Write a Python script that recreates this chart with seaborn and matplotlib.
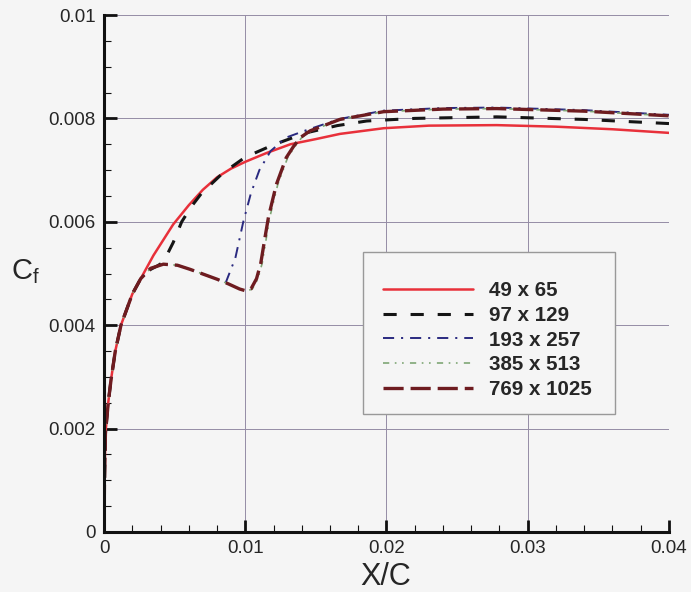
import numpy as np
import pandas as pd
import seaborn as sns
import matplotlib
matplotlib.use("Agg")
import matplotlib.pyplot as plt
from matplotlib.ticker import MultipleLocator, FuncFormatter
from matplotlib.patches import Rectangle

# skin friction along the leading edge, one array pair per grid
x_49 = [0, 0.00003, 0.0001, 0.0003, 0.0005, 0.0008, 0.0012, 0.0016, 0.002, 0.0026, 0.0035,
        0.0049, 0.006, 0.007, 0.008, 0.009, 0.010, 0.0115, 0.0132, 0.015, 0.0167, 0.0198, 0.023,
        0.0278, 0.032, 0.036, 0.040]
cf_49 = [0, 0.0009, 0.0019, 0.0025, 0.00295, 0.0035, 0.0040, 0.0043, 0.0046, 0.0049, 0.00535,
         0.00595, 0.00632, 0.00662, 0.00686, 0.00703, 0.00716, 0.00733, 0.0075, 0.0076, 0.0077, 0.00781,
         0.00786, 0.00787, 0.00784, 0.00779, 0.00772]

x_97 = [0, 0.00003, 0.0001, 0.0003, 0.0005, 0.0008, 0.0012, 0.0016, 0.002, 0.0026, 0.0033,
        0.0038, 0.0042, 0.0049, 0.0055, 0.0062, 0.0069, 0.0084, 0.010, 0.012, 0.0143, 0.0165,
        0.0186, 0.022, 0.0278, 0.034, 0.040]
cf_97 = [0, 0.0009, 0.0019, 0.0025, 0.00295, 0.0035, 0.0040, 0.0043, 0.0046, 0.0049, 0.00508,
         0.00515, 0.00522, 0.0056, 0.0060, 0.0063, 0.00655, 0.00694, 0.00725, 0.00749, 0.00772, 0.00786,
         0.00795, 0.0080, 0.00803, 0.00798, 0.0079]

x_193 = [0, 0.00003, 0.0001, 0.0003, 0.0005, 0.0008, 0.0012, 0.0016, 0.002, 0.0026, 0.0033,
         0.0042, 0.0052, 0.0061, 0.007, 0.008, 0.0086, 0.0093, 0.00986, 0.0104, 0.011, 0.0118,
         0.0129, 0.0143, 0.0167, 0.0198, 0.024, 0.0278, 0.034, 0.040]
cf_193 = [0, 0.0009, 0.0019, 0.0025, 0.00295, 0.0035, 0.0040, 0.0043, 0.0046, 0.0049, 0.0051,
          0.00518, 0.00516, 0.00508, 0.00499, 0.00489, 0.00481, 0.0053, 0.0060, 0.00655, 0.0070, 0.00737,
          0.00763, 0.00777, 0.00799, 0.00815, 0.0082, 0.00821, 0.00816, 0.00807]

x_385 = [0, 0.00003, 0.0001, 0.0003, 0.0005, 0.0008, 0.0012, 0.0016, 0.002, 0.0026, 0.0033,
         0.0042, 0.0052, 0.0061, 0.007, 0.008, 0.0088, 0.0096, 0.0101, 0.0105, 0.0109, 0.0112,
         0.0115, 0.01175, 0.0123, 0.013, 0.0135, 0.014, 0.0147, 0.0167, 0.0198, 0.024, 0.0278,
         0.034, 0.040]
cf_385 = [0, 0.0009, 0.0019, 0.0025, 0.00295, 0.0035, 0.0040, 0.0043, 0.0046, 0.0049, 0.0051,
          0.00518, 0.00516, 0.00508, 0.00499, 0.00489, 0.0048, 0.0047, 0.00466, 0.0047, 0.0049, 0.0052,
          0.0057, 0.0061, 0.00672, 0.00724, 0.00745, 0.00763, 0.00776, 0.00798, 0.00813, 0.00818, 0.00819,
          0.00814, 0.00805]

x_769 = [0, 0.00003, 0.0001, 0.0003, 0.0005, 0.0008, 0.0012, 0.0016, 0.002, 0.0026, 0.0033,
         0.0042, 0.0052, 0.0061, 0.007, 0.008, 0.0088, 0.0096, 0.0101, 0.0104, 0.0108, 0.0111,
         0.0114, 0.01165, 0.0122, 0.0129, 0.0134, 0.0139, 0.0146, 0.0167, 0.0198, 0.024, 0.0278,
         0.034, 0.040]
cf_769 = [0, 0.0009, 0.0019, 0.0025, 0.00295, 0.0035, 0.0040, 0.0043, 0.0046, 0.0049, 0.0051,
          0.00518, 0.00516, 0.00508, 0.00499, 0.00489, 0.0048, 0.0047, 0.00466, 0.0047, 0.0049, 0.0052,
          0.0057, 0.0061, 0.00672, 0.00724, 0.00745, 0.00763, 0.00776, 0.00798, 0.00813, 0.00818, 0.00819,
          0.00814, 0.00805]

labels = ["49 x 65", "97 x 129", "193 x 257", "385 x 513", "769 x 1025"]

bg = "#f5f5f5"
sns.set_style("ticks")
plt.rcParams["font.family"] = ["Liberation Sans", "DejaVu Sans"]
plt.rcParams["mathtext.fontset"] = "custom"
plt.rcParams["mathtext.rm"] = "Liberation Sans"
plt.rcParams["lines.scale_dashes"] = False

fig = plt.figure(figsize=(6.91, 5.92), dpi=100, facecolor=bg)
ax = fig.add_axes([104 / 691, 60 / 592, 565 / 691, 517 / 592])
ax.set_facecolor(bg)

series = [
    (x_49, cf_49, "#e8303a", 1.8, "-"),
    (x_97, cf_97, "#151515", 2.2, (0, (9.5, 10))),
    (x_193, cf_193, "#2a2a80", 1.4, (0, (8, 5, 1.5, 5))),
    (x_385, cf_385, "#7fa675", 1.2, (0, (4.5, 4, 1.2, 4, 1.2, 4.5))),
    (x_769, cf_769, "#6e1c20", 2.4, (0, (14.5, 5))),
]
for (xs, ys, col, lw, ls), lab in zip(series, labels):
    sns.lineplot(x=xs, y=ys, ax=ax, color=col, lw=lw, linestyle=ls,
                 label=lab, estimator=None, sort=False)

ax.set_xlim(0, 0.04)
ax.set_ylim(0, 0.01)
ax.xaxis.set_major_locator(MultipleLocator(0.01))
ax.xaxis.set_minor_locator(MultipleLocator(0.002))
ax.yaxis.set_major_locator(MultipleLocator(0.002))
ax.yaxis.set_minor_locator(MultipleLocator(0.0005))
fmt = FuncFormatter(lambda v, p: "%g" % round(v, 6))
ax.xaxis.set_major_formatter(fmt)
ax.yaxis.set_major_formatter(fmt)

ax.grid(True, which="major", color="#958ca5", lw=0.7)
ax.set_axisbelow(True)
for s in ["top", "right"]:
    ax.spines[s].set_visible(False)
for s in ["left", "bottom"]:
    ax.spines[s].set_linewidth(2.2)
    ax.spines[s].set_color("#111111")
ax.tick_params(which="major", direction="in", length=9, width=2, color="#111111",
               labelsize=13.5, pad=6)
ax.tick_params(which="minor", direction="in", length=5, width=0.8, color="#111111")
ax.set_xlabel("")
ax.set_ylabel("")

fig.text(386 / 691, 1 - 577 / 592, "X/C", fontsize=22, ha="center", va="center")
fig.text(25 / 691, 1 - 272 / 592, r"C$_\mathregular{f}$", fontsize=21, ha="center", va="center")

# legend box drawn separately so the padding matches the original
box = Rectangle((363 / 691, 1 - 414 / 592), 252 / 691, 162 / 592, transform=fig.transFigure,
                facecolor=bg, edgecolor="#999999", lw=1.0, zorder=3, clip_on=False)
ax.add_patch(box)
leg = ax.legend(loc="upper left", bbox_to_anchor=(383 / 691, 1 - 281 / 592),
                bbox_transform=fig.transFigure, borderaxespad=0, borderpad=0,
                labelspacing=0.28, handlelength=4.4, handletextpad=0.78,
                frameon=False, prop={"size": 14.8, "weight": "bold"})
leg.set_zorder(4)

fig.savefig("out.png", dpi=100, facecolor=bg)
